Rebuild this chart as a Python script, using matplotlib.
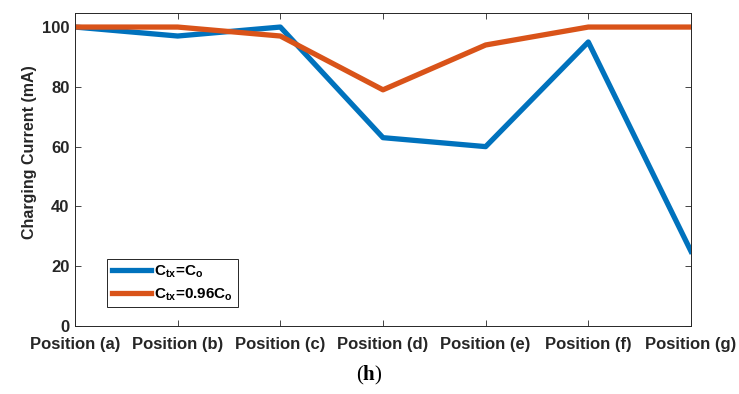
import numpy as np
import matplotlib.pyplot as plt

plt.rcParams['font.family'] = ['Liberation Sans', 'DejaVu Sans']
plt.rcParams['font.weight'] = 'bold'
plt.rcParams['axes.labelweight'] = 'bold'
plt.rcParams['mathtext.fontset'] = 'custom'
plt.rcParams['mathtext.rm'] = 'Liberation Sans:bold'
plt.rcParams['mathtext.bf'] = 'Liberation Serif:bold'

positions = ['Position (a)', 'Position (b)', 'Position (c)', 'Position (d)',
             'Position (e)', 'Position (f)', 'Position (g)']
current_co = [100, 97, 100, 63, 60, 95, 25]
current_096 = [100, 100, 97, 79, 94, 100, 100]

fig = plt.figure(figsize=(7.39, 3.94), dpi=100)
ax = fig.add_axes([0.1015, 0.1726, 0.8335, 0.7944])

x = np.arange(len(positions))
ax.plot(x, current_co, color='#0072BD', lw=3.8, label=r'C$_{\mathrm{tx}}$=C$_{\mathrm{o}}$')
ax.plot(x, current_096, color='#D95319', lw=3.8, label=r'C$_{\mathrm{tx}}$=0.96C$_{\mathrm{o}}$')

ax.set_xlim(0, len(positions) - 1)
ax.set_ylim(0, 104.7)
ax.set_xticks(x)
ax.set_xticklabels(positions)
ax.set_yticks([0, 20, 40, 60, 80, 100])
ax.tick_params(direction='in', top=True, right=True, labelsize=12, length=4,
               width=0.6, color='#262626', labelcolor='#262626')
ax.tick_params(axis='x', pad=8)
ax.tick_params(axis='y', pad=4)
for s in ax.spines.values():
    s.set_linewidth(0.7)
    s.set_color('#262626')

ax.set_ylabel('Charging Current (mA)', fontsize=11.5, color='#262626')
ax.yaxis.set_label_coords(-0.062, 0.554)

leg = ax.legend(loc='lower left', bbox_to_anchor=(0.052, 0.06), borderaxespad=0,
                fontsize=11, handlelength=2.6, handletextpad=0.2, labelspacing=0.4,
                borderpad=0.3, fancybox=False, edgecolor='#262626', framealpha=1)
leg.get_frame().set_linewidth(0.7)

fig.text(0.5, 0.048, r'($\mathbf{h}$)', family='Liberation Serif', fontweight='normal',
         fontsize=15, ha='center', va='center', color='black')

fig.savefig('out.png', dpi=100)
